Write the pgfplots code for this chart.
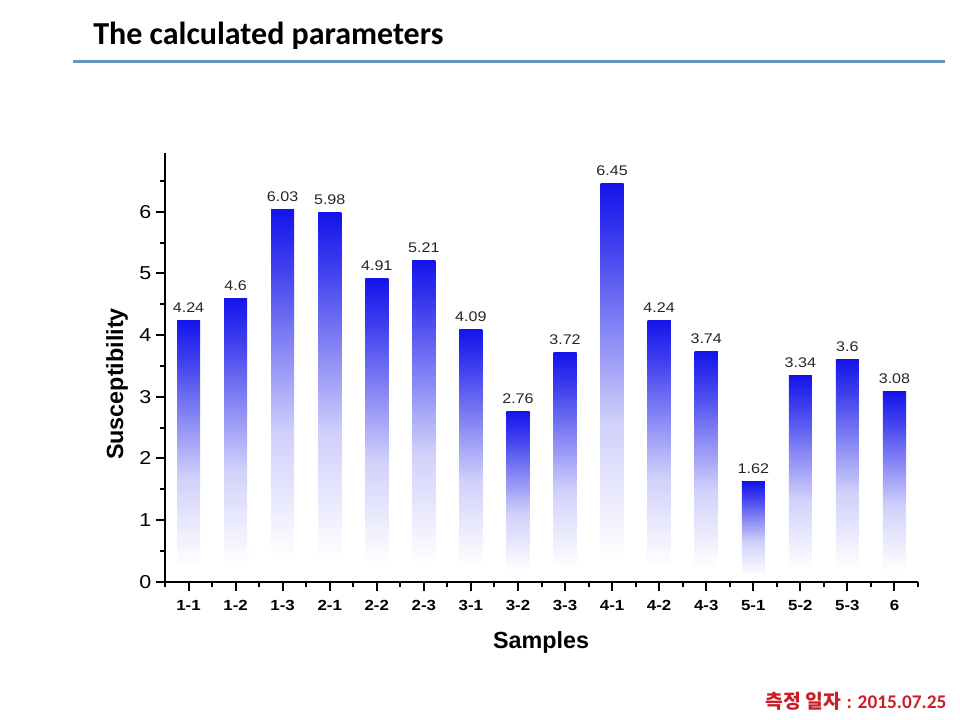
\documentclass[border=0pt]{standalone}
\usepackage{fontspec}
\usepackage{pgfplots}
\pgfplotsset{compat=1.18}
\setmainfont{Liberation Sans}
\newfontfamily\chartfont{Liberation Sans}[FakeStretch=1.15]
\newfontfamily\titlefont{Carlito}
\newfontfamily\cjk{Noto Sans CJK KR}

\definecolor{barblue}{RGB}{20,20,235}
\definecolor{rulecol}{RGB}{100,150,190}
\definecolor{datered}{RGB}{205,30,40}
% white at the foot of each bar, blue at its top (25bp = foot, 75bp = top)
\pgfdeclareverticalshading{barshade}{100bp}{color(0bp)=(white); color(28bp)=(white);
  color(45bp)=(barblue!20!white); color(56bp)=(barblue!50!white);
  color(67.5bp)=(barblue!82!white); color(75bp)=(barblue); color(100bp)=(barblue)}

\begin{document}
\begin{tikzpicture}
\begin{scope}[x=0.75pt,y=0.75pt]
  \path[use as bounding box] (0,0) rectangle (960,720);
  \node[anchor=base west, inner sep=0pt, font=\titlefont\bfseries\fontsize{24}{28}\selectfont] at (93,675) {The calculated parameters};
  \draw[rulecol, line width=2pt] (73,658.3) -- (945,658.3);
  \node[anchor=base, inner sep=0pt, font=\bfseries\fontsize{17.5}{20}\selectfont] at (541,71.7) {Samples};
  \node[rotate=90, anchor=center, inner sep=0pt, font=\bfseries\fontsize{17.5}{20}\selectfont] at (117,336) {Susceptibility};
  \node[anchor=base east, inner sep=0pt, text=datered, font=\fontsize{14.5}{17}\selectfont] at (946.7,11.5) {{\cjk\bfseries 측정 일자} {\titlefont\bfseries : 2015.07.25}};
\end{scope}
\begin{axis}[
    at={(123.75pt,103.725pt)}, anchor=south west,
    scale only axis, width=564.75pt, height=321.75pt,
    xmin=-0.5, xmax=15.5, ymin=0, ymax=6.957,
    clip=false, axis on top,
    ybar, bar width=0.49, bar shift=0pt,
    axis lines*=left,
    axis line style={line width=1.5pt, -},
    tick align=outside,
    major tick length=6.75pt, minor tick length=3.75pt,
    every tick/.style={line width=1.5pt, black},
    xtick={0,...,15},
    xticklabels={1-1,1-2,1-3,2-1,2-2,2-3,3-1,3-2,3-3,4-1,4-2,4-3,5-1,5-2,5-3,6},
    minor xtick={-0.5,0.5,...,15.5},
    ytick={0,...,6},
    minor ytick={0.5,1.5,...,6.5},
    /pgf/number format/assume math mode=true,
    xticklabel style={font=\chartfont\bfseries\fontsize{11}{13}\selectfont, yshift=-4pt},
    yticklabel style={font=\chartfont\fontsize{14}{16}\selectfont},
    nodes near coords={\pgfmathprintnumber{\pgfplotspointmeta}},
    nodes near coords style={font=\chartfont\fontsize{10.5}{12}\selectfont, text=black!85, anchor=south, inner sep=0pt, yshift=5.7pt},
    every axis plot/.append style={draw=none, shade, shading=barshade},
]
% one plot per bar, so that every bar gets its own shading
\addplot coordinates {(0,4.24)};
\addplot coordinates {(1,4.6)};
\addplot coordinates {(2,6.03)};
\addplot coordinates {(3,5.98)};
\addplot coordinates {(4,4.91)};
\addplot coordinates {(5,5.21)};
\addplot coordinates {(6,4.09)};
\addplot coordinates {(7,2.76)};
\addplot coordinates {(8,3.72)};
\addplot coordinates {(9,6.45)};
\addplot coordinates {(10,4.24)};
\addplot coordinates {(11,3.74)};
\addplot coordinates {(12,1.62)};
\addplot coordinates {(13,3.34)};
\addplot coordinates {(14,3.6)};
\addplot coordinates {(15,3.08)};
\end{axis}
\end{tikzpicture}
\end{document}
